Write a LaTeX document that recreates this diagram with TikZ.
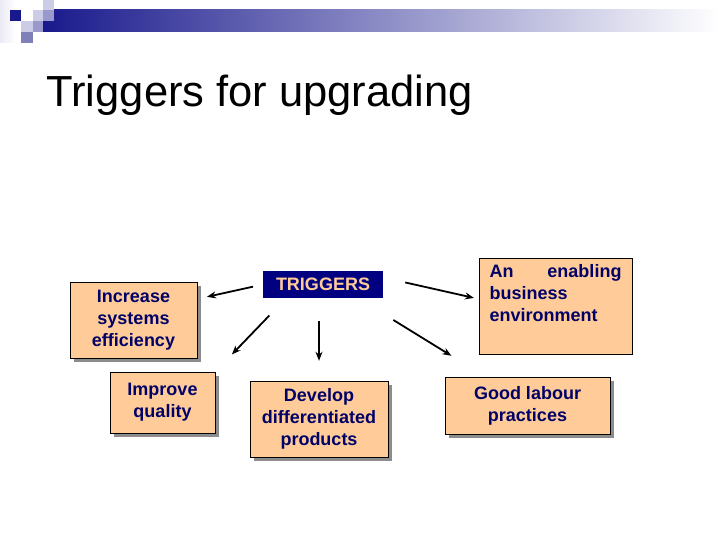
\documentclass[tikz,border=0pt]{standalone}
\usepackage{fontspec}
\setmainfont{Liberation Sans}
\usetikzlibrary{shadows,arrows.meta}
\definecolor{peach}{HTML}{FFCC99}
\definecolor{navy}{HTML}{000080}
\definecolor{ink}{HTML}{000066}
\definecolor{lav}{HTML}{CCCCE6}
\definecolor{midlav}{HTML}{9999CC}
\definecolor{deeplav}{HTML}{8080B8}
\begin{document}
\begin{tikzpicture}[x=1pt, y=-1pt,
    flatbox/.style={draw=black, fill=peach, text=ink, inner sep=0pt, align=center,
      font=\fontsize{18}{22}\selectfont\bfseries},
    box/.style={flatbox,
      drop shadow={shadow xshift=4pt, shadow yshift=-4pt, fill=gray!90, opacity=1}},
    arr/.style={->, >={Stealth[length=9pt, width=7pt]}, line width=1.8pt}]
  \useasboundingbox (0, 0) rectangle (720, 540);
  % header band
  \fill[left color=lav!40, right color=white] (0, 0) rectangle (15, 43);
  \fill[left color=navy!90, right color=white] (43, 10) rectangle (720, 32);
  \fill[navy!90] (10, 10) rectangle (21, 21);
  \fill[lav] (33, 10) rectangle (43, 21);
  \fill[lav] (43, 0) rectangle (54, 10);
  \fill[midlav] (43, 10) rectangle (54, 21);
  \fill[lav] (21, 21) rectangle (33, 32);
  \fill[midlav] (33, 21) rectangle (43, 32);
  \fill[deeplav] (21, 32) rectangle (33, 43);
  \node[anchor=base west, font=\fontsize{43.5}{50}\selectfont] (title) at (43, 107) {Triggers for upgrading};

  \node[fill=navy, text=peach, inner sep=0pt, minimum width=120pt, minimum height=27pt,
    font=\fontsize{18}{22}\selectfont\bfseries] (trig) at (323, 284.5) {TRIGGERS};
  \node[box, minimum width=127pt, minimum height=76pt] (inc) at (133.5, 320) {Increase\\systems\\efficiency};
  \node[box, minimum width=105pt, minimum height=61pt] (imp) at (162.5, 402.5) {Improve\\quality};
  \node[box, minimum width=138pt, minimum height=76pt] (dev) at (319, 419) {Develop\\differentiated\\products};
  \node[flatbox, text width=132pt, align=left, minimum width=153pt,
    minimum height=96pt] (env) at (555.5, 306) {An\hfill enabling\\business\\environment\\[4pt]\mbox{}};
  \node[box, minimum width=165pt, minimum height=57pt] (good) at (527.5, 405.5) {Good labour\\practices};

  \draw[arr, shorten <=10pt, shorten >=10pt] (trig.west) -- ([yshift=21pt]inc.east);
  \draw[arr, shorten <=24pt, shorten >=24pt] ([xshift=-37pt]trig.south) -- (imp.north east);
  \draw[arr, shorten <=23pt, shorten >=20pt] (trig.south -| dev.north) -- (dev.north);
  \draw[arr, shorten <=22.6pt, shorten >=5pt] ([yshift=7pt]trig.east) -- ([yshift=7pt]env.west);
  \draw[arr, shorten <=41.5pt, shorten >=40pt] ([xshift=35pt]trig.south) -- ([xshift=-42pt]good.north);
\end{tikzpicture}
\end{document}
